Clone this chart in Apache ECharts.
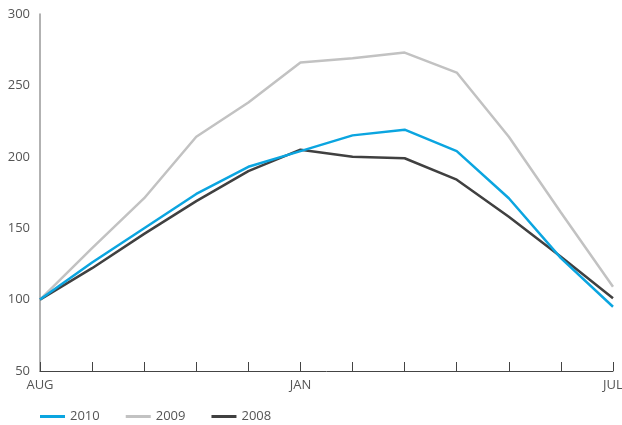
<!DOCTYPE html>
<html>
<head>
<meta charset="utf-8">
<script src="https://cdn.jsdelivr.net/npm/echarts@6/dist/echarts.min.js"></script>
<style>html,body{margin:0;padding:0;background:#fff}#c{width:622px;height:425px}</style>
</head>
<body>
<div id="c"></div>
<script>
const months = ['AUG','SEP','OCT','NOV','DEC','JAN','FEB','MAR','APR','MAY','JUN','JUL'];
const shownLabels = ['AUG','JAN','JUL'];
const s2010 = [100, 126, 150, 174, 193, 204, 215, 219, 204, 171, 129, 95];
const s2009 = [100, 136, 171, 214, 238, 266, 269, 273, 259, 214, 161, 109];
const s2008 = [100, 122, 146, 169, 190, 205, 200, 199, 184, 158, 130, 101];
const yTicks = {min: 50, max: 300, interval: 50};

const font = '"Open Sans", "Noto Sans", sans-serif';
const chart = echarts.init(document.getElementById('c'), null, {renderer: 'canvas'});
const mk = (name, data, color) => ({
  name, type: 'line', data, symbol: 'none', smooth: false,
  lineStyle: {color, width: 2.5}, itemStyle: {color}
});
chart.setOption({
  animation: false,
  grid: {left: 40, right: 9, top: 14, bottom: 54, containLabel: false, outerBoundsMode: 'none'},
  legend: {
    left: 35, top: 405, icon: 'rect', itemWidth: 25, itemHeight: 3, itemGap: 26,
    textStyle: {color: '#555', fontSize: 13, fontFamily: font},
    data: ['2010', '2009', '2008']
  },
  xAxis: {
    type: 'category', data: months, boundaryGap: false,
    axisLine: {lineStyle: {color: '#444', width: 1}},
    axisTick: {show: true, inside: true, length: 9, interval: 0, lineStyle: {color: '#444'}},
    axisLabel: {
      interval: (i, v) => shownLabels.includes(v),
      color: '#555', fontSize: 13, fontFamily: font, margin: 8
    },
    splitLine: {show: false}
  },
  yAxis: {
    type: 'value', min: yTicks.min, max: yTicks.max, interval: yTicks.interval,
    axisLine: {show: true, lineStyle: {color: '#999', width: 1.5}},
    axisTick: {show: false},
    axisLabel: {color: '#555', fontSize: 13, fontFamily: font, margin: 10},
    splitLine: {show: false}
  },
  series: [
    mk('2009', s2009, '#c2c2c2'),
    mk('2008', s2008, '#404040'),
    mk('2010', s2010, '#0ba5e0')
  ]
});
</script>
</body>
</html>
